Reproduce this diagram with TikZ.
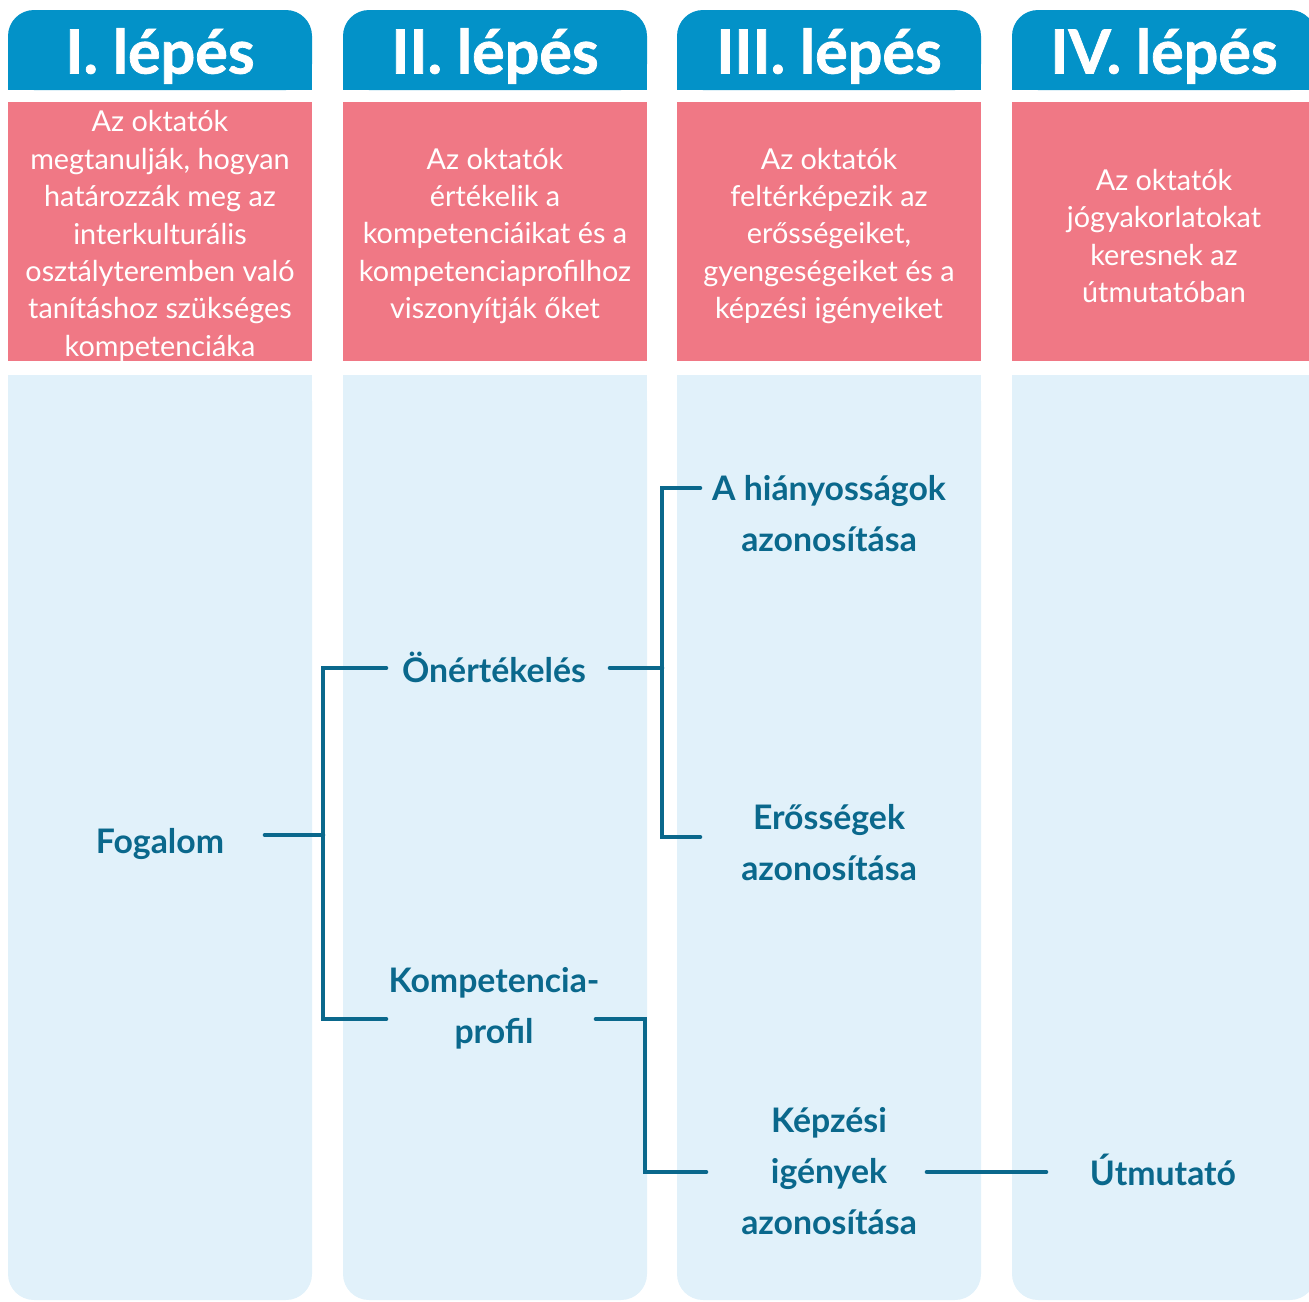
\documentclass[tikz,border=0pt]{standalone}
\usepackage{fontspec}
\setmainfont{Lato}
\newfontfamily\hdrfont[BoldFeatures={FakeBold=1.2}]{Lato}
\usepackage{tikz}
\definecolor{hdrblue}{RGB}{3,146,200}
\definecolor{stepred}{RGB}{240,120,133}
\definecolor{colbg}{RGB}{225,241,250}
\definecolor{ink}{RGB}{10,104,140}

\begin{document}
\begin{tikzpicture}[x=1pt, y=-1pt,
  hdr/.style={text=white, font=\fontsize{61}{61}\selectfont\hdrfont\bfseries},
  desc/.style={text=white, align=center, font=\fontsize{28.8}{37.4}\selectfont},
  lbl/.style={text=ink, align=center, font=\fontsize{33.8}{51}\selectfont\bfseries},
  link/.style={draw=ink, line width=4.6pt, line cap=round, line join=miter}]
  \useasboundingbox (0,0) rectangle (1309,1301);
  \foreach \x/\t in {8/I,343/II,677/III,1012/IV} {
    \fill[hdrblue, rounded corners=26pt] (\x,10) rectangle (\x+304,90);
    \fill[hdrblue] (\x,50) rectangle (\x+304,90);
    \fill[stepred] (\x,102) rectangle (\x+304,361);
    \fill[colbg, rounded corners=26pt] (\x,375) rectangle (\x+304,1300);
    \fill[colbg] (\x,375) rectangle (\x+304,800);
    \node[hdr] at (\x+152,56) {\t. lépés};
  }
  \node[desc] (d1) at (160,236) {Az oktatók\\megtanulják, hogyan\\határozzák meg az\\interkulturális\\osztályteremben való\\tanításhoz szükséges\\kompetenciáka};
  \node[desc] (d2) at (495,236) {Az oktatók\\értékelik a\\kompetenciáikat és a\\kompetenciaprofilhoz\\viszonyítják őket};
  \node[desc] (d3) at (829,236) {Az oktatók\\feltérképezik az\\erősségeiket,\\gyengeségeiket és a\\képzési igényeiket};
  \node[desc] (d4) at (1164,236) {Az oktatók\\jógyakorlatokat\\keresnek az\\útmutatóban};

  \node[lbl] (fog) at (160,844) {Fogalom};
  \node[lbl] (onert) at (494,667) {Önértékelés};
  \node[lbl] (komp) at (494,1008) {Kompetencia-\\profil};
  \node[lbl] (hiany) at (829,514) {A hiányosságok\\azonosítása};
  \node[lbl] (eros) at (829,843) {Erősségek\\azonosítása};
  \node[lbl] (kepz) at (829,1171) {Képzési\\igények\\azonosítása};
  \node[lbl] (utm) at (1163,1170) {Útmutató};

  \coordinate (j1) at (323,835);
  \coordinate (j2) at (662,668);
  \coordinate (j3) at (645,1019);
  \draw[link] (265,835) -- (j1);
  \draw[link] (386,668) -| (j1) |- (386,1019);
  \draw[link] (610,668) -- (j2);
  \draw[link] (700,488) -| (j2) |- (700,837);
  \draw[link] (596,1019) -- (j3) |- (706,1172);
  \draw[link] (927,1172) -- (1046,1172);
\end{tikzpicture}
\end{document}
